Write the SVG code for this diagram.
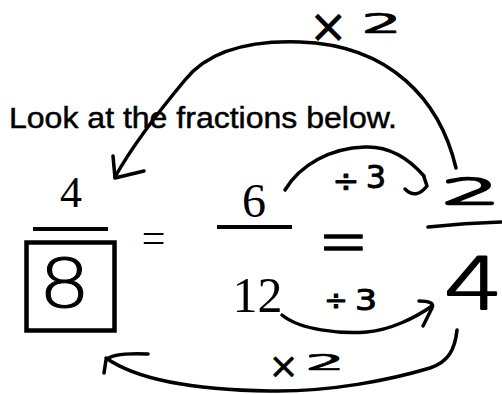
<svg xmlns="http://www.w3.org/2000/svg" width="502" height="394" viewBox="0 0 502 394">
<style>
.pr{font-family:"Liberation Serif","Times New Roman",serif;fill:#000}
.sans{font-family:"Liberation Sans",Arial,sans-serif;fill:#000;stroke:#000;stroke-width:0.5}
.hw{font-family:"DejaVu Sans",sans-serif;fill:#000;stroke:#000;stroke-linejoin:round;stroke-linecap:round}
.lt{font-weight:200}
.ln{stroke:#000;stroke-width:4;fill:none}
.pen{stroke:#000;stroke-width:3.5;fill:none;stroke-linecap:round;stroke-linejoin:round}
</style>
<rect width="502" height="394" fill="#fff"/>
<g id="instruction">
<text class="sans" x="9" y="128" font-size="30" textLength="388" lengthAdjust="spacingAndGlyphs">Look at the fractions below.</text>
</g>
<g id="fraction-4-8">
<text class="pr" x="71" y="207" font-size="44" text-anchor="middle">4</text>
<line class="ln" x1="33" y1="229" x2="108" y2="229"/>
<rect x="26.5" y="242.5" width="88" height="88" fill="none" stroke="#000" stroke-width="4.5"/>
<text class="hw lt" font-size="68" stroke-width="1" text-anchor="middle" transform="translate(64.5,307) scale(1.2,1)">8</text>
</g>
<g id="equals-1">
<text class="pr" x="153.5" y="252" font-size="42" text-anchor="middle">=</text>
</g>
<g id="fraction-6-12">
<text class="pr" x="254" y="217" font-size="48" text-anchor="middle">6</text>
<line class="ln" x1="217" y1="227" x2="292" y2="227"/>
<text class="pr" x="257.5" y="312" font-size="50" text-anchor="middle">12</text>
</g>
<g id="equals-2">
<text class="hw lt" font-size="50" stroke-width="1" text-anchor="middle" transform="translate(343.5,240) scale(1.2,1.5)" y="17.4">=</text>
</g>
<g id="fraction-2-4">
<text class="hw lt" font-size="40" stroke-width="2.5" text-anchor="middle" transform="translate(471,204) scale(2.3,0.9)">2</text>
<path class="pen" d="M428,227 Q465,223 501,222" stroke-width="4.5"/>
<text class="hw lt" font-size="72" stroke-width="2" text-anchor="middle" transform="translate(473.5,309) scale(1.3,1)">4</text>
</g>
<g id="connectors">
<path class="pen" d="M456,168 C440,100 390,45 300,42 C240,40 205,55 185,80 C160,110 130,150 115,177"/>
<path class="pen" d="M113,156 L115,178 L144,171"/>
<path class="pen" d="M285,190 C300,165 330,148 365,147 C390,146 410,160 424,176"/>
<path class="pen" d="M405,189 Q416,200 427,186 L424,177"/>
<path class="pen" d="M282,315 C300,330 340,334 367,332 C390,330 415,318 432,306"/>
<path class="pen" d="M419,301 C428,301 435,303 432,308 L423,326"/>
<path class="pen" d="M457,330 C455,350 448,362 430,368 C390,380 330,392 270,391 C200,390 140,382 106,358"/>
<path class="pen" d="M148,354 C125,353 110,355 106,360 L104,373"/>
</g>
<g id="label-top-x2">
<text class="hw" stroke-width="0.6"><tspan x="309" y="42" font-size="46">×</tspan><tspan x="361" y="33" font-size="27" textLength="41" lengthAdjust="spacingAndGlyphs">2</tspan></text>
</g>
<g id="label-div3-top">
<text class="hw" stroke-width="0.9"><tspan x="332.6" y="192" font-size="32">÷</tspan><tspan x="365.8" y="188" font-size="32">3</tspan></text>
</g>
<g id="label-div3-bottom">
<text class="hw" stroke-width="1"><tspan x="324.3" y="310" font-size="28">÷</tspan><tspan x="355" y="310" font-size="28" textLength="22" lengthAdjust="spacingAndGlyphs">3</tspan></text>
</g>
<g id="label-bottom-x2">
<text class="hw" stroke-width="0.6"><tspan x="268.4" y="378" font-size="36">×</tspan><tspan x="305" y="370" font-size="21" textLength="40" lengthAdjust="spacingAndGlyphs">2</tspan></text>
</g>
</svg>
